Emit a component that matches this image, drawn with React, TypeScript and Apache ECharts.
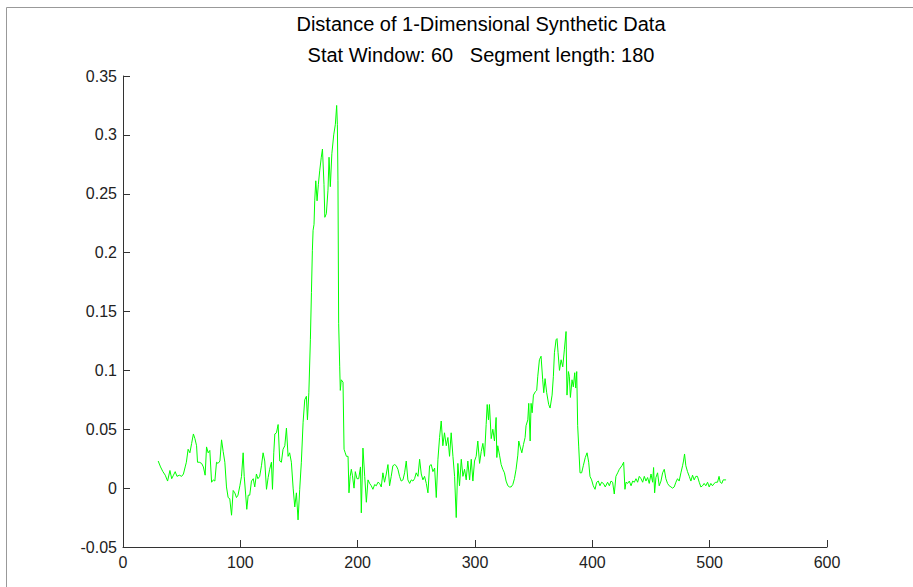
import React, { useEffect, useRef } from "react";
import * as echarts from "echarts";

const titleLine1 = "Distance of 1-Dimensional Synthetic Data";
const titleLine2 = "Stat Window: 60   Segment length: 180";

const xTickValues = [0, 100, 200, 300, 400, 500, 600];
const yTickLabels = ["-0.05", "0", "0.05", "0.1", "0.15", "0.2", "0.25", "0.3", "0.35"];

const xValues = [
  30, 32, 34, 36, 38, 40, 41.5, 43, 44.5, 46, 48, 50, 51.5, 53, 54, 55.5, 57, 58.5, 60, 61.3,
  62.7, 63.5, 65, 67, 68.5, 70, 71.2, 72.6, 74, 75.5, 77, 78.3, 79.7, 81, 82.6, 84, 85.4, 86.8, 88.2, 89.6,
  91, 92.5, 93.9, 95.3, 96.7, 98, 99.6, 101, 102.4, 103.3, 104.5, 105.5, 106.7, 108, 109.5, 111, 112.3, 113.7, 115, 116.5,
  118, 119.4, 120.8, 122.3, 123.7, 125, 126.5, 127.4, 128.5, 129.4, 130.8, 132.2, 133.6, 135, 136.4, 137.9, 139.3, 140.7, 142, 143.5,
  145, 146.4, 147.8, 149.2, 150.6, 152, 153.5, 154.9, 156.3, 157.2, 158.4, 159.7, 160.6, 161.4, 162, 162.8, 163.4, 164.3, 165.4, 166.5,
  167.7, 169, 170, 171.3, 172, 173.3, 174.7, 175.6, 176.7, 178, 179.6, 181, 182.1, 182.7, 183.2, 183.8, 184.7, 185.2, 186, 187.5,
  188.4, 189.4, 190.4, 191.8, 192.6, 193.6, 194.6, 195.5, 196.9, 198, 199.4, 200.9, 202.4, 203.1, 204.5, 206, 207.4, 208.8, 210.2, 211.6,
  213, 214.5, 215.9, 217.3, 218.7, 220.1, 221.5, 222.9, 224.4, 225.8, 227.2, 228.6, 230, 231.5, 232.9, 234.3, 235.7, 237.1, 238.6, 240,
  241.4, 242.8, 244.3, 245.7, 247.1, 248.5, 249.9, 251.4, 252.8, 254.2, 255.6, 257, 258.5, 259.9, 261.3, 262.7, 264.1, 265.6, 267, 268.4,
  269.8, 271.2, 272.6, 274, 275.5, 276.9, 278.3, 279.7, 281.2, 282.6, 284, 285.4, 286.8, 288.3, 289.7, 291.1, 292.5, 293.9, 295.4, 296.8,
  298.2, 299.6, 301, 302.4, 303.9, 305.3, 306.7, 308.1, 309.5, 310.4, 311.5, 312.3, 313.8, 315.2, 316.6, 318, 318.6, 319.4, 320.9, 322.3,
  323.7, 325.1, 326.5, 328, 329.4, 330.8, 332.2, 333.6, 335, 336.5, 337.3, 338.5, 339.9, 341.3, 342.7, 343.5, 345, 345.8, 347, 347.8,
  348.7, 349.8, 351.5, 352.6, 353.5, 354.9, 356.3, 357.7, 358.6, 359.7, 361.1, 362.8, 364, 365.7, 366.8, 367.7, 369.1, 369.9, 370.8, 372,
  373.4, 374.8, 376.2, 377.6, 378.4, 379.6, 380.4, 381.3, 382.7, 383.8, 385, 385.8, 386.7, 387.5, 388.4, 389.5, 390.9, 392.3, 394, 395.5,
  396.9, 398, 399.4, 400.8, 402.3, 403.7, 405.1, 406.5, 407.9, 409.4, 411, 413, 414.5, 415.9, 417.3, 418.7, 420.1, 421.6, 423, 425.2,
  426.7, 427.8, 428.7, 430.1, 431.5, 433, 434.4, 435.8, 437.2, 438.6, 440, 441.5, 442.9, 444.3, 445.7, 447.1, 448.5, 450, 451.4, 452.2,
  453.1, 454.2, 455.6, 457, 458.5, 459.9, 461.3, 462.7, 464.1, 465.5, 467, 468.4, 469.8, 471.2, 472.6, 474, 475.5, 476.9, 477.7, 478.6,
  479.7, 481.1, 482.6, 484, 485.4, 486.8, 488.2, 489.6, 491.1, 492.5, 493.9, 495.3, 496.7, 498.2, 499.6, 501, 502.4, 503.8, 505.2, 506.7,
  508, 509, 510.4, 511.5, 513.2, 514
];

const distanceValues = [
  0.023, 0.018, 0.014, 0.011, 0.006, 0.015, 0.008, 0.011, 0.014, 0.010, 0.011, 0.010, 0.012, 0.018, 0.022, 0.033, 0.030, 0.038, 0.046, 0.042,
  0.036, 0.022, 0.022, 0.021, 0.018, 0.011, 0.035, 0.030, 0.032, 0.005, 0.007, 0.006, 0.022, 0.021, 0.023, 0.041, 0.031, 0.022, 0.001, -0.008,
  -0.009, -0.023, -0.002, -0.004, -0.008, -0.006, 0.002, 0.010, 0.030, 0.010, -0.005, -0.018, -0.006, -0.006, 0.006, 0.008, 0.001, 0.012, 0.008, 0.010,
  0.019, 0.030, 0.023, -0.001, 0.009, 0.016, 0.022, -0.001, 0.030, 0.046, 0.047, 0.054, 0.023, 0.022, 0.033, 0.036, 0.051, 0.027, 0.030, 0.022,
  0.000, -0.016, -0.004, -0.027, -0.001, 0.022, 0.056, 0.075, 0.078, 0.058, 0.081, 0.126, 0.166, 0.202, 0.219, 0.224, 0.244, 0.261, 0.244, 0.258,
  0.270, 0.281, 0.288, 0.258, 0.230, 0.233, 0.253, 0.281, 0.256, 0.284, 0.300, 0.309, 0.325, 0.309, 0.261, 0.140, 0.103, 0.083, 0.092, 0.090,
  0.033, 0.030, 0.027, 0.027, -0.004, 0.010, 0.016, 0.011, 0.000, 0.014, 0.008, 0.008, 0.018, -0.021, 0.034, 0.010, -0.012, 0.007, 0.004, 0.002,
  -0.001, 0.003, 0.002, 0.005, 0.004, 0.001, 0.013, 0.005, 0.012, 0.020, 0.002, 0.010, 0.019, 0.020, 0.019, 0.016, 0.010, 0.006, 0.007, 0.013,
  0.023, 0.007, 0.004, 0.007, 0.006, 0.008, 0.013, 0.010, 0.0245, 0.012, 0.007, 0.010, 0.004, -0.004, 0.019, 0.020, 0.014, 0.017, -0.008, 0.0245,
  0.043, 0.057, 0.036, 0.047, 0.036, 0.043, 0.027, 0.047, 0.027, 0.010, -0.025, 0.021, 0.002, 0.0245, 0.010, 0.016, 0.007, 0.023, 0.007, 0.0245,
  0.006, 0.023, 0.027, 0.040, 0.021, 0.031, 0.038, 0.027, 0.054, 0.071, 0.058, 0.071, 0.042, 0.050, 0.040, 0.060, 0.026, 0.036, 0.028, 0.020,
  0.016, 0.013, 0.006, 0.002, 0.001, 0.001, 0.003, 0.008, 0.016, 0.028, 0.040, 0.035, 0.030, 0.037, 0.043, 0.053, 0.058, 0.072, 0.040, 0.072,
  0.064, 0.079, 0.082, 0.083, 0.095, 0.109, 0.112, 0.092, 0.081, 0.093, 0.081, 0.071, 0.068, 0.079, 0.095, 0.115, 0.126, 0.127, 0.115, 0.100,
  0.109, 0.103, 0.118, 0.133, 0.079, 0.099, 0.095, 0.077, 0.092, 0.086, 0.098, 0.085, 0.099, 0.053, 0.035, 0.013, 0.013, 0.019, 0.026, 0.030,
  0.022, 0.010, 0.007, 0.002, -0.001, 0.005, 0.006, 0.002, 0.005, 0.004, 0.001, 0.005, 0.002, 0.006, 0.005, -0.005, 0.010, 0.013, 0.016, 0.019,
  0.022, -0.001, 0.005, 0.004, 0.006, 0.002, 0.006, 0.005, 0.008, 0.005, 0.010, 0.008, 0.005, 0.010, 0.006, 0.009, 0.004, 0.012, 0.005, 0.0175,
  -0.004, 0.009, 0.013, 0.002, 0.006, 0.013, 0.016, 0.008, 0.004, 0.002, 0.001, 0.000, 0.001, 0.005, 0.008, 0.006, 0.013, 0.019, 0.023, 0.029,
  0.019, 0.014, 0.010, 0.006, 0.011, 0.007, 0.010, 0.010, 0.005, 0.001, 0.002, 0.004, 0.002, 0.005, 0.001, 0.004, 0.002, 0.004, 0.005, 0.005,
  0.010, 0.005, 0.004, 0.007, 0.007, 0.007
];

const FONT = "'Liberation Sans', Arial, Helvetica, sans-serif";

export default function App() {
  const ref = useRef<HTMLDivElement>(null);

  useEffect(() => {
    if (!ref.current) return;
    const chart = echarts.init(ref.current, null, { renderer: "svg" });
    const seriesData = xValues.map((x, i) => [x, distanceValues[i]]);
    const yLabelMap: Record<string, string> = {};
    yTickLabels.forEach((s) => {
      yLabelMap[String(Math.round(parseFloat(s) * 100))] = s;
    });
    chart.setOption({
      animation: false,
      backgroundColor: "#ffffff",
      title: [
        {
          text: titleLine1,
          left: 476,
          top: 9,
          textAlign: "center",
          textStyle: { fontFamily: FONT, fontSize: 20, fontWeight: "normal", color: "#000" },
        },
        {
          text: titleLine2,
          left: 476,
          top: 40,
          textAlign: "center",
          textStyle: { fontFamily: FONT, fontSize: 20, fontWeight: "normal", color: "#000" },
        },
      ],
      graphic: [
        {
          type: "rect",
          shape: { x: 6.5, y: 7.5, width: 960, height: 700 },
          style: { fill: "none", stroke: "#999999", lineWidth: 1 },
          silent: true,
        },
      ],
      grid: { left: 123, right: 86, top: 76, bottom: 40, containLabel: false },
      xAxis: {
        type: "value",
        min: xTickValues[0],
        max: xTickValues[xTickValues.length - 1],
        interval: 100,
        axisLine: { show: true, onZero: false, lineStyle: { color: "#333", width: 1 } },
        axisTick: { show: true, inside: true, length: 7, lineStyle: { color: "#333" } },
        axisLabel: { color: "#222", fontSize: 16, fontFamily: FONT, margin: 7 },
        splitLine: { show: false },
      },
      yAxis: {
        type: "value",
        min: -0.05,
        max: 0.35,
        interval: 0.05,
        axisLine: { show: true, onZero: false, lineStyle: { color: "#333", width: 1 } },
        axisTick: { show: true, inside: true, length: 7, lineStyle: { color: "#333" } },
        axisLabel: {
          color: "#222",
          fontSize: 16,
          fontFamily: FONT,
          margin: 6,
          formatter: (v: number) => yLabelMap[String(Math.round(v * 100))] ?? String(v),
        },
        splitLine: { show: false },
      },
      series: [
        {
          type: "line",
          data: seriesData,
          showSymbol: false,
          symbol: "none",
          lineStyle: { color: "#00ff00", width: 1 },
          itemStyle: { color: "#00ff00" },
          emphasis: { disabled: true },
        },
      ],
    });
    return () => chart.dispose();
  }, []);

  return (
    <div
      ref={ref}
      style={{ position: "fixed", left: 0, top: 0, width: 913, height: 587, background: "#fff" }}
    />
  );
}
